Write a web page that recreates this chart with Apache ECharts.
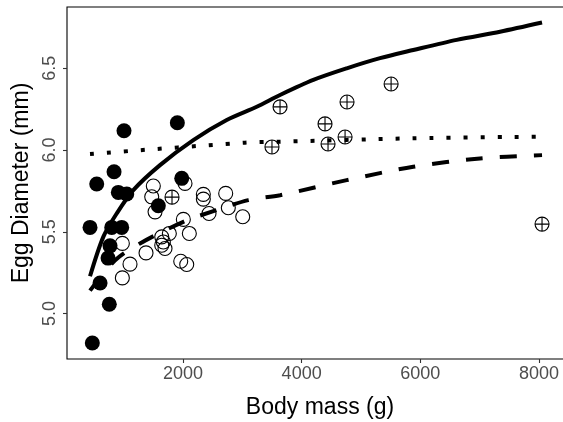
<!DOCTYPE html>
<html>
<head>
<meta charset="utf-8">
<script src="https://cdn.jsdelivr.net/npm/echarts@6/dist/echarts.min.js"></script>
<style>
html,body{margin:0;padding:0;background:#fff;}
#chart{width:563px;height:422px;}
</style>
</head>
<body>
<div id="chart"></div>
<script>
// Filled circles (group A)
var filledMass = [472, 602, 758, 433, 546, 838, 1006, 1905, 1979, 910, 1052, 1584, 799, 967, 770, 737];
var filledEgg  = [4.82, 5.187, 5.057, 5.527, 5.792, 5.867, 6.118, 6.167, 5.827, 5.741, 5.731, 5.659, 5.527, 5.527, 5.414, 5.339];
// Open circles (group B)
var openMass = [1500, 1473, 1529, 2034, 2343, 2343, 2439, 2720, 2764, 3007, 2006, 2107, 1770, 1642, 1669, 1697, 1642, 1377, 978, 1107, 978, 1962, 2063];
var openEgg  = [5.78, 5.714, 5.622, 5.796, 5.729, 5.70, 5.612, 5.735, 5.647, 5.592, 5.576, 5.49, 5.49, 5.469, 5.438, 5.398, 5.418, 5.371, 5.429, 5.302, 5.218, 5.32, 5.30];
// Crossed circles (group C)
var crossMass = [1815, 3500, 3636, 4394, 4445, 4732, 4765, 5508, 8052];
var crossEgg  = [5.712, 6.019, 6.264, 6.16, 6.037, 6.08, 6.294, 6.404, 5.547];
// Fitted curves
var solidMass = [433, 657, 883, 1163, 1613, 2174, 2737, 3243, 3636, 4197, 4760, 5321, 5882, 6614, 7344, 8052];
var solidEgg  = [5.228, 5.469, 5.612, 5.755, 5.908, 6.061, 6.184, 6.265, 6.337, 6.429, 6.50, 6.562, 6.612, 6.674, 6.724, 6.78];
var dottedMass = [433, 3046, 3636, 5882, 8052];
var dottedEgg  = [5.976, 6.045, 6.051, 6.072, 6.082];
var dashedMass = [433, 856, 1276, 2006, 2569, 3101, 3636, 4760, 5882, 7006, 8052];
var dashedEgg  = [5.14, 5.326, 5.429, 5.561, 5.633, 5.694, 5.724, 5.816, 5.898, 5.949, 5.969];
// Tick labels
var xTicks = [2000, 4000, 6000, 8000];
var yTicks = [5.0, 5.5, 6.0, 6.5];

function pairs(a, b) { return a.map(function (v, i) { return [v, b[i]]; }); }

var FONT = 'Liberation Sans, Arial, sans-serif';
var chart = echarts.init(document.getElementById('chart'), null, {renderer: 'canvas'});
var lineBase = {type: 'line', symbol: 'none', smooth: 0.3, z: 5, silent: true};
chart.setOption({
  animation: false,
  backgroundColor: '#fff',
  grid: {left: 67, right: -10, top: 7, bottom: 63, containLabel: false, outerBoundsMode: 'none',
    show: true, borderColor: '#000', borderWidth: 1.1, backgroundColor: 'transparent'},
  xAxis: {
    type: 'value', min: 45, max: 8574,
    name: 'Body mass (g)', nameLocation: 'middle', nameGap: 37,
    nameTextStyle: {color: '#000', fontSize: 23, fontFamily: FONT},
    axisLine: {show: false},
    axisTick: {show: true, length: 4, lineStyle: {color: '#333', width: 1.1}, customValues: xTicks},
    axisLabel: {color: '#4d4d4d', fontSize: 18, fontFamily: FONT, margin: 6, customValues: xTicks,
      formatter: function (v) { return String(v); }},
    splitLine: {show: false}
  },
  yAxis: {
    type: 'value', min: 4.722, max: 6.875,
    name: 'Egg Diameter (mm)', nameLocation: 'middle', nameGap: 34, nameRotate: 90,
    nameTextStyle: {color: '#000', fontSize: 23, fontFamily: FONT},
    axisLine: {show: false},
    axisTick: {show: true, length: 4, lineStyle: {color: '#333', width: 1.1}, customValues: yTicks},
    axisLabel: {color: '#4d4d4d', fontSize: 18, fontFamily: FONT, margin: 8, rotate: 90, customValues: yTicks,
      formatter: function (v) { return v.toFixed(1); }},
    splitLine: {show: false}
  },
  series: [
    {type: 'scatter', data: pairs(openMass, openEgg), symbol: 'circle', symbolSize: 14, z: 2,
      itemStyle: {color: 'transparent', borderColor: '#000', borderWidth: 1.1, opacity: 1}},
    {type: 'scatter', data: pairs(filledMass, filledEgg), symbol: 'circle', symbolSize: 15, z: 3,
      itemStyle: {color: '#000', borderColor: '#000', borderWidth: 0, opacity: 1}},
    {type: 'scatter', data: pairs(crossMass, crossEgg), symbol: 'circle', symbolSize: 14, z: 3,
      itemStyle: {color: 'transparent', borderColor: '#000', borderWidth: 1.1, opacity: 1}},
    {type: 'scatter', data: pairs(crossMass, crossEgg), symbol: 'path://M8,0L8,16M0,8L16,8', symbolSize: 14, z: 3,
      itemStyle: {color: 'none', borderColor: '#000', borderWidth: 1.1, opacity: 1}},
    Object.assign({}, lineBase, {data: pairs(solidMass, solidEgg), lineStyle: {color: '#000', width: 4, cap: 'butt'}}),
    Object.assign({}, lineBase, {data: pairs(dottedMass, dottedEgg), lineStyle: {color: '#000', width: 4, type: [4, 13], cap: 'butt'}}),
    Object.assign({}, lineBase, {data: pairs(dashedMass, dashedEgg), lineStyle: {color: '#000', width: 4, type: [17, 17], cap: 'butt'}})
  ]
});
</script>
</body>
</html>
